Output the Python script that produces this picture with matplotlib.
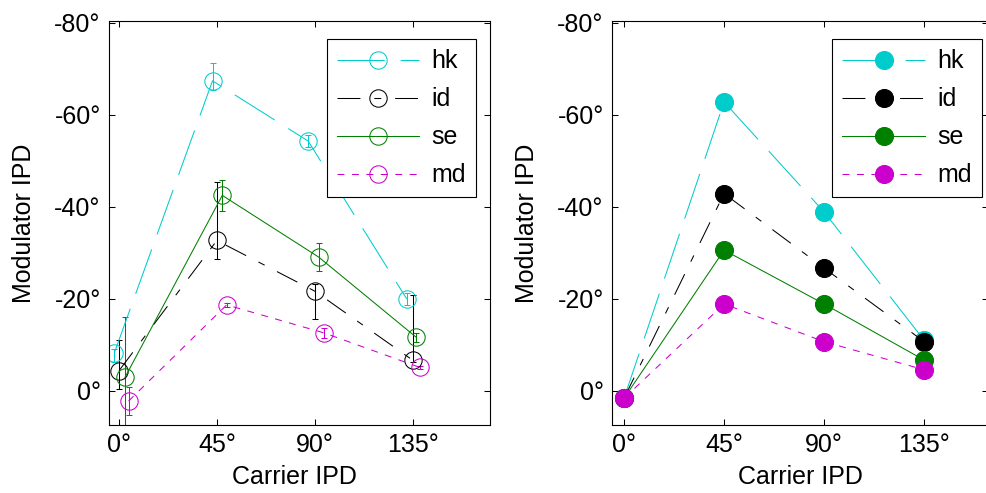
import numpy as np
import matplotlib
matplotlib.use('Agg')
import matplotlib.pyplot as plt
from matplotlib.lines import Line2D

plt.rcParams['font.family'] = ['Liberation Sans', 'DejaVu Sans']
plt.rcParams['font.size'] = 18
plt.rcParams['lines.scale_dashes'] = False

# series names and colours
names = ['hk', 'id', 'se', 'md']
colors = ['#00CCCC', 'black', '#008000', '#CC00CC']
dashes = [(0, (34, 11.5)), (0, (16.5, 10, 5, 10)), 'solid', (0, (5, 5.4))]

# left panel: measured values (x slightly jittered), errors toward -ve / +ve
left_x = {
    'hk': [-2.2, 43.0, 87.0, 132.3],
    'id': [0.0, 45.0, 90.0, 135.0],
    'se': [2.8, 47.5, 91.8, 136.6],
    'md': [4.4, 49.5, 94.4, 138.4],
}
left_y = {
    'hk': [-8.2, -67.4, -54.3, -20.0],
    'id': [-4.4, -32.7, -21.7, -6.7],
    'se': [-3.0, -42.5, -29.1, -11.7],
    'md': [2.2, -18.7, -12.6, -5.1],
}
left_err_neg = {
    'hk': [1.0, 3.8, 1.3, 1.3],
    'id': [6.7, 12.8, 1.5, 14.2],
    'se': [13.0, 3.4, 3.0, 1.0],
    'md': [3.0, 0.5, 1.1, 0.4],
}
left_err_pos = {
    'hk': [1.8, 2.0, 1.3, 1.3],
    'id': [4.0, 4.1, 6.1, 0.4],
    'se': [13.0, 3.4, 3.0, 1.0],
    'md': [3.0, 0.5, 1.1, 0.4],
}

# right panel: model values
right_x = [0, 45, 90, 135]
right_y = {
    'hk': [1.6, -62.8, -38.9, -11.0],
    'id': [1.6, -42.9, -26.7, -10.7],
    'se': [1.6, -30.6, -18.9, -6.7],
    'md': [1.6, -18.9, -10.7, -4.6],
}

xticks = [0, 45, 90, 135]
xticklabels = ['0°', '45°', '90°', '135°']
yticks = [0, -20, -40, -60, -80]
yticklabels = ['0°', '-20°', '-40°', '-60°', '-80°']

W, H = 986, 493
fig = plt.figure(figsize=(W / 100, H / 100), dpi=100)


def px_axes(x0, x1, y0, y1):
    return fig.add_axes([x0 / W, 1 - y1 / H, (x1 - x0) / W, (y1 - y0) / H])


ax1 = px_axes(109, 490, 21, 425)
ax2 = px_axes(612, 988, 21, 425)

h1, h2 = [], []
for n, c, ls in zip(names, colors, dashes):
    ax1.errorbar(left_x[n], left_y[n], yerr=[left_err_neg[n], left_err_pos[n]],
                 color=c, ecolor=c, elinewidth=0.75, capsize=2.5, capthick=0.75,
                 linestyle=ls, linewidth=0.75, marker='o', markersize=12.5,
                 markerfacecolor='none', markeredgecolor=c, markeredgewidth=0.75)
    h1.append(Line2D([], [], color=c, linestyle=ls, linewidth=0.75, marker='o',
                     markersize=12.5, markerfacecolor='none', markeredgecolor=c,
                     markeredgewidth=0.75, label=n))

for n, c, ls in zip(names, colors, dashes):
    ln, = ax2.plot(right_x, right_y[n], color=c, linestyle=ls, linewidth=0.75,
                   marker='o', markersize=13, markerfacecolor=c, markeredgecolor=c,
                   markeredgewidth=0.75, label=n)
    h2.append(ln)

for ax, hs, xl, lx, legx in [(ax1, h1, (-4.6, 170.6), 0.488, 326.7),
                             (ax2, h2, (-5.4, 163.7), 0.5, 832.3)]:
    ax.set_xlim(*xl)
    ax.set_ylim(7.4, -80.4)
    ax.set_xticks(xticks)
    ax.set_xticklabels(xticklabels)
    ax.set_yticks(yticks)
    ax.set_yticklabels(yticklabels)
    ax.tick_params(direction='in', length=4, width=0.75, top=True, right=True, pad=6)
    for s in ax.spines.values():
        s.set_linewidth(0.8)
    ax.set_xlabel('Carrier IPD', va='top')
    ax.xaxis.set_label_coords(lx, -0.1)
    ax.set_ylabel('Modulator IPD', va='center')
    ax.yaxis.set_label_coords(-0.223 if ax is ax1 else -0.226, 0.5)
    leg = ax.legend(handles=hs, loc='upper left', bbox_to_anchor=(legx / W, 1 - 39.3 / H),
                    bbox_transform=fig.transFigure, borderaxespad=0,
                    handlelength=3.3, handletextpad=0.5, borderpad=0.4,
                    labelspacing=0.56, fancybox=False, framealpha=1,
                    edgecolor='black', fontsize=18)
    leg.get_frame().set_linewidth(0.8)

fig.savefig('out.png', dpi=100)
